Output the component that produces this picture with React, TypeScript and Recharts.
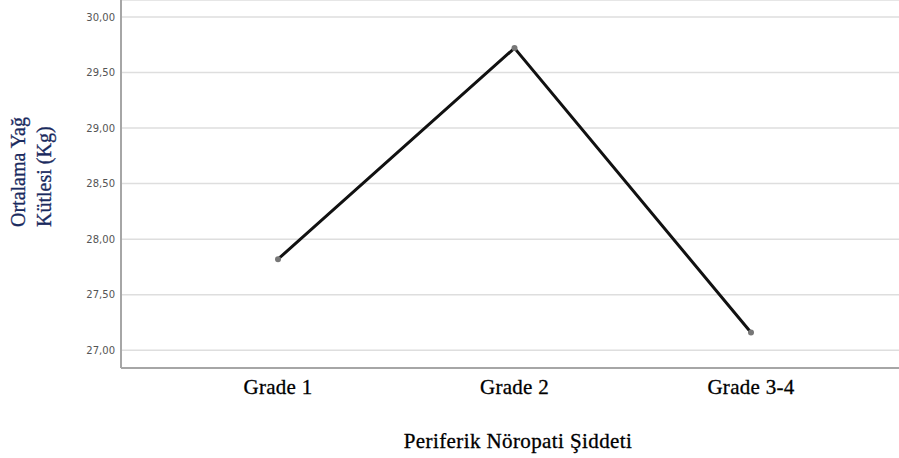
import React from "react";
import { LineChart, Line, XAxis, YAxis, CartesianGrid, Label, Customized } from "recharts";

const categories = ["Grade 1", "Grade 2", "Grade 3-4"];
const meanFat = [27.82, 29.72, 27.16];
const yTicks = [27, 27.5, 28, 28.5, 29, 29.5, 30];

const data = categories.map((c, i) => ({ grade: c, value: meanFat[i] }));

const fmt = (v: number) => v.toFixed(2).replace(".", ",");

const SERIF = "'Liberation Serif', 'Times New Roman', serif";

const YLabel = () => (
  <g fill="#1a2a5e" fontFamily={SERIF} fontSize={20} stroke="#1a2a5e" strokeWidth={0.3}>
    <text transform="translate(25,227) rotate(-90)" textAnchor="start">
      Ortalama Yağ
    </text>
    <text transform="translate(51,227) rotate(-90)" textAnchor="start">
      Kütlesi (Kg)
    </text>
  </g>
);

const XLabel = () => (
  <text
    x={518}
    y={448}
    textAnchor="middle"
    fill="#000"
    stroke="#000"
    strokeWidth={0.3}
    fontFamily={SERIF}
    fontSize={21}
    letterSpacing={0.4}
  >
    Periferik Nöropati Şiddeti
  </text>
);

export default function App() {
  return (
    <div style={{ position: "absolute", left: 0, top: 0, width: 899, height: 458, background: "#fff" }}>
      <LineChart width={899} height={458} data={data} margin={{ top: 0, right: 0, left: 0, bottom: 60 }}>
        <CartesianGrid vertical={false} stroke="#dedede" strokeWidth={1.5} />
        <XAxis
          dataKey="grade"
          padding={{ left: 157, right: 148 }}
          axisLine={{ stroke: "#a6a6a6", strokeWidth: 2 }}
          tickLine={false}
          tickSize={0}
          tickMargin={11}
          height={30}
          tick={{ fill: "#000", stroke: "#000", strokeWidth: 0.3, fontFamily: SERIF, fontSize: 21, letterSpacing: 0.3 }}
        />
        <YAxis
          domain={[26.84, 30.153]}
          ticks={yTicks}
          allowDataOverflow
          width={121}
          axisLine={{ stroke: "#a6a6a6", strokeWidth: 2 }}
          tickLine={false}
          tickSize={0}
          tickMargin={6}
          tickFormatter={fmt}
          tick={{ fill: "#555", fontFamily: "'DejaVu Sans', sans-serif", fontSize: 10 }}
        >
          <Label content={() => <YLabel />} />
        </YAxis>
        <Line
          type="linear"
          dataKey="value"
          stroke="#111"
          strokeWidth={3}
          dot={{ r: 3, fill: "#777", stroke: "#777", strokeWidth: 0 }}
          activeDot={false}
          isAnimationActive={false}
        />
        <Customized component={XLabel} />
      </LineChart>
    </div>
  );
}
